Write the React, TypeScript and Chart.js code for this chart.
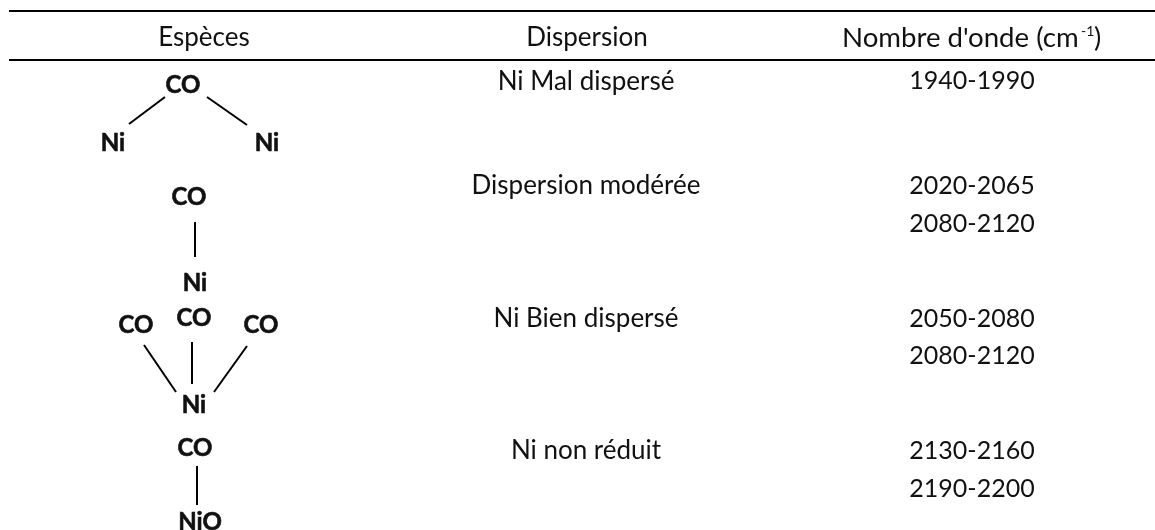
import React, { useEffect, useRef } from "react";
import { Chart, registerables } from "chart.js";

Chart.register(...registerables);

const FONT = "Lato, Carlito, sans-serif";
const TEXT = "#111111";

// Regular text cells: [label, x, y]
const headerCells: [string, number, number][] = [
  ["Espèces", 204, 38],
  ["Dispersion", 587, 38],
];
const dispersionCells: [string, number, number][] = [
  ["Ni Mal dispersé", 586, 82],
  ["Dispersion modérée", 586, 186],
  ["Ni Bien dispersé", 586, 319],
  ["Ni non réduit", 586, 451],
];
const wavenumberCells: [string, number, number][] = [
  ["1940-1990", 972, 81],
  ["2020-2065", 972, 186],
  ["2080-2120", 972, 224],
  ["2050-2080", 972, 319],
  ["2080-2120", 972, 356],
  ["2130-2160", 972, 451],
  ["2190-2200", 972, 489],
];
const unitHeader = ["Nombre d'onde (cm", "-1", ")"];
const speciesLabels: [string, number, number][] = [
  ["CO", 183, 85],
  ["Ni", 113, 143],
  ["Ni", 267, 143],
  ["CO", 189, 197],
  ["Ni", 195, 283],
  ["CO", 136, 325],
  ["CO", 194, 318],
  ["CO", 261, 325],
  ["Ni", 194, 405],
  ["CO", 195, 448],
  ["NiO", 200, 522],
];
const ruleLines: [number, number][][] = [
  [[9, 11], [1155, 11]],
  [[9, 60], [1155, 60]],
];
const bonds: [number, number][][] = [
  [[129, 124], [165, 97]],
  [[207, 97], [247, 125]],
  [[195, 222], [195, 257]],
  [[144, 345], [176, 392]],
  [[192, 342], [192, 384]],
  [[247, 346], [214, 392]],
  [[197, 466], [197, 505]],
];

const toPoints = (cells: [string, number, number][]) => cells.map(([, x, y]) => ({ x, y }));
const labelsOf = (cells: [string, number, number][]) => cells.map(([t]) => t);

const textPlugin = {
  id: "tableText",
  afterDatasetsDraw(chart: any) {
    const ctx = chart.ctx;
    chart.data.datasets.forEach((ds: any, i: number) => {
      if (!ds.texts) return;
      const meta = chart.getDatasetMeta(i);
      ctx.save();
      ctx.fillStyle = TEXT;
      ctx.strokeStyle = TEXT;
      ctx.lineWidth = ds.textStroke || 0;
      ctx.font = ds.textFont;
      ctx.textAlign = ds.textAlign || "center";
      ctx.textBaseline = "middle";
      ds.texts.forEach((t: string, j: number) => {
        ctx.fillText(t, meta.data[j].x, meta.data[j].y);
        if (ds.textStroke) ctx.strokeText(t, meta.data[j].x, meta.data[j].y);
      });
      ctx.restore();
    });
  },
};

export default function App() {
  const ref = useRef<HTMLCanvasElement>(null);
  useEffect(() => {
    document.body.style.margin = "0";
    const textDs = (cells: [string, number, number][], textFont: string, textAlign = "center", textStroke = 0) => ({
      type: "scatter" as const,
      data: toPoints(cells),
      texts: labelsOf(cells),
      textFont,
      textAlign,
      textStroke,
      pointRadius: 0,
      showLine: false,
    });
    const segDs = (seg: [number, number][], width: number) => ({
      type: "line" as const,
      data: seg.map(([x, y]) => ({ x, y })),
      borderColor: "#000000",
      borderWidth: width,
      pointRadius: 0,
      tension: 0,
      fill: false,
    });
    const regular = `400 26px ${FONT}`;
    const digits = `400 25px ${FONT}`;
    const bold = `700 24px ${FONT}`;
    const chart = new Chart(ref.current!, {
      type: "scatter",
      data: {
        datasets: [
          ...ruleLines.map((s) => segDs(s, 2)),
          ...bonds.map((s) => segDs(s, 2)),
          textDs(headerCells, regular),
          textDs(dispersionCells, regular),
          textDs(wavenumberCells, digits),
          textDs([[unitHeader[0], 842, 38]], `400 27.6px ${FONT}`, "left"),
          textDs([[unitHeader[1], 1081, 31]], `400 14px ${FONT}`, "left"),
          textDs([[unitHeader[2], 1094, 38]], `400 27px ${FONT}`, "left"),
          textDs(speciesLabels, bold, "center", 0.6),
        ] as any,
      },
      options: {
        animation: false,
        responsive: false,
        layout: { padding: 0 },
        plugins: { legend: { display: false }, tooltip: { enabled: false }, title: { display: false } },
        scales: {
          x: { type: "linear", min: 0, max: 1155, display: false },
          y: { type: "linear", min: 0, max: 530, reverse: true, display: false },
        },
      },
      plugins: [textPlugin],
    });
    return () => chart.destroy();
  }, []);
  return <canvas ref={ref} width={1155} height={530} style={{ display: "block", background: "#ffffff" }} />;
}
